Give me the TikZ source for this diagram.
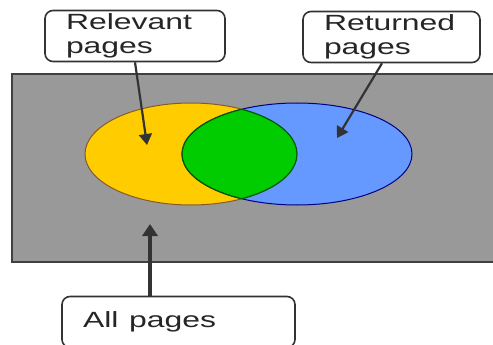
\documentclass[tikz,border=0pt]{standalone}
\usepackage{fontspec}
\setmainfont{Liberation Sans}
\usetikzlibrary{arrows.meta,positioning}
\definecolor{pagegray}{HTML}{999999}
\definecolor{relyellow}{HTML}{FFCC00}
\definecolor{retblue}{HTML}{6699FF}
\definecolor{bothgreen}{HTML}{00CC00}
\newcommand{\widetext}[1]{\scalebox{1.45}[1]{#1}}
\tikzset{
	labelbox/.style={draw=black!80, line width=1.6pt, rounded corners=8pt, fill=white,
		inner xsep=21pt, inner ysep=0pt, align=left, minimum height=51pt,
		font=\fontsize{22}{24}\selectfont, text=black!85},
	pointer/.style={draw=black!80, line width=2.2pt, -{Triangle[width=13pt,length=11pt]}},
}

\begin{document}
\begin{tikzpicture}[x=1pt, y=-1pt]
			%%%%% START %%%%%
			\useasboundingbox (0,0) rectangle (493,345);
			
			\draw[fill=pagegray, draw=black!75, line width=2pt] (12, 74) rectangle (505, 262);
			
			\draw[fill=relyellow, draw=brown!70!black, line width=1pt] (191, 154) ellipse (106 and 51);
			\draw[fill=retblue, draw=blue!50!black, line width=1pt] (297, 154) ellipse (115 and 51);
			\begin{scope}
				\clip (191, 154) ellipse (106 and 51);
				\draw[fill=bothgreen, draw=green!35!black, line width=1.2pt] (297, 154) ellipse (115 and 51);
			\end{scope}
			\begin{scope}
				\clip (297, 154) ellipse (115 and 51);
				\draw[draw=green!35!black, line width=1.2pt] (191, 154) ellipse (106 and 51);
			\end{scope}
			
			\coordinate (relTip) at (147, 145);
			\coordinate (retTip) at (337, 138);
			\coordinate (allTip) at (150, 224);
			
			\node[labelbox, text width=138pt] (relevant) at (135, 36) {\widetext{Relevant}\\\widetext{pages}};
			\node[labelbox, text width=135pt] (returned) at (391.5, 37) {\widetext{Returned}\\\widetext{pages}};
			\node[labelbox, text width=191pt] (allpages) at (178.5, 322) {\widetext{All pages}};
			
			\draw[pointer] (relevant.south) -- (relTip);
			\draw[pointer] (returned.south -| 382, 0) -- (retTip);
			\draw[pointer, line width=4pt, -{Triangle[width=15pt,length=12pt]}] (allpages.north -| allTip) -- (allTip);
			%%%%% END %%%%%
\end{tikzpicture}
\end{document}
